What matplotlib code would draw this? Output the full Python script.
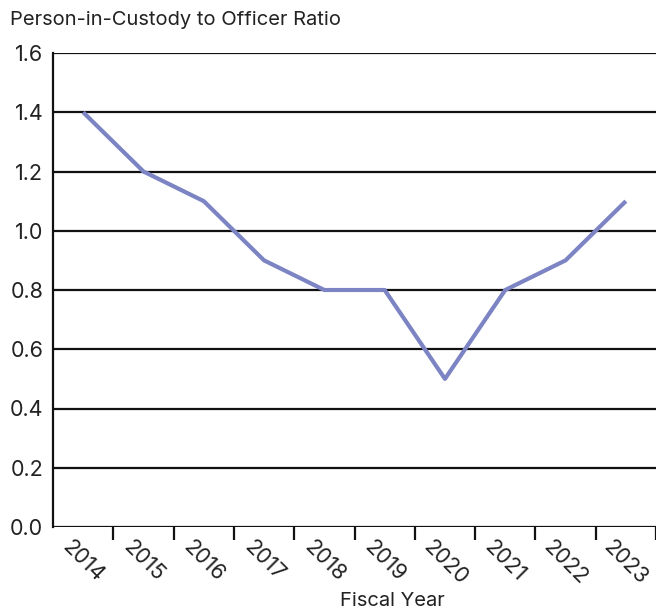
import matplotlib
matplotlib.use("Agg")
import matplotlib.pyplot as plt
import matplotlib.transforms as mtransforms
import numpy as np

plt.rcParams['font.family'] = ['Inter', 'DejaVu Sans']

years = ["2014", "2015", "2016", "2017", "2018", "2019", "2020", "2021", "2022", "2023"]
ratio = [1.4, 1.2, 1.1, 0.9, 0.8, 0.8, 0.5, 0.8, 0.9, 1.1]
y_ticks = [0.0, 0.2, 0.4, 0.6, 0.8, 1.0, 1.2, 1.4, 1.6]

fig = plt.figure(figsize=(6.56, 6.11), dpi=100)
ax = fig.add_axes([53/656, 1 - 527/611, 1 - 53/656, (527 - 53)/611])

x = np.arange(len(years))
ax.plot(x, ratio, color='#7c84c4', linewidth=3.0, solid_capstyle='butt', zorder=3)

ax.set_xlim(-0.5, len(years) - 0.5)
ax.set_ylim(0, 1.6)
ax.set_yticks(y_ticks)
ax.set_yticklabels([f"{v:.1f}" for v in y_ticks], fontsize=15.5, color='#222222')
for v in y_ticks:
    ax.axhline(v, color='#111111', linewidth=1.6, zorder=2)

ax.set_xticks(x)
ax.set_xticklabels(years, rotation=-45, ha='center', va='top', fontsize=15.5, color='#222222')
offset = mtransforms.ScaledTranslation(5/100, 0, fig.dpi_scale_trans)
for lbl in ax.get_xticklabels():
    lbl.set_transform(lbl.get_transform() + offset)
ax.set_xticks(np.arange(len(years)) + 0.5, minor=True)
ax.tick_params(axis='x', which='major', length=0, pad=7)
ax.tick_params(axis='x', which='minor', length=9.5, width=1.6, color='#111111')
ax.tick_params(axis='y', length=0, pad=7)

for s in ['top', 'right', 'bottom']:
    ax.spines[s].set_visible(False)
ax.spines['left'].set_linewidth(1.6)
ax.spines['left'].set_color('#111111')

fig.text(10/656, 1 - 20/611, "Person-in-Custody to Officer Ratio", fontsize=14.5,
         color='#222222', ha='left', va='center')
fig.text(392/656, 1 - 601/611, "Fiscal Year", fontsize=14.5, color='#222222',
         ha='center', va='center')

fig.savefig("out.png", dpi=100)
